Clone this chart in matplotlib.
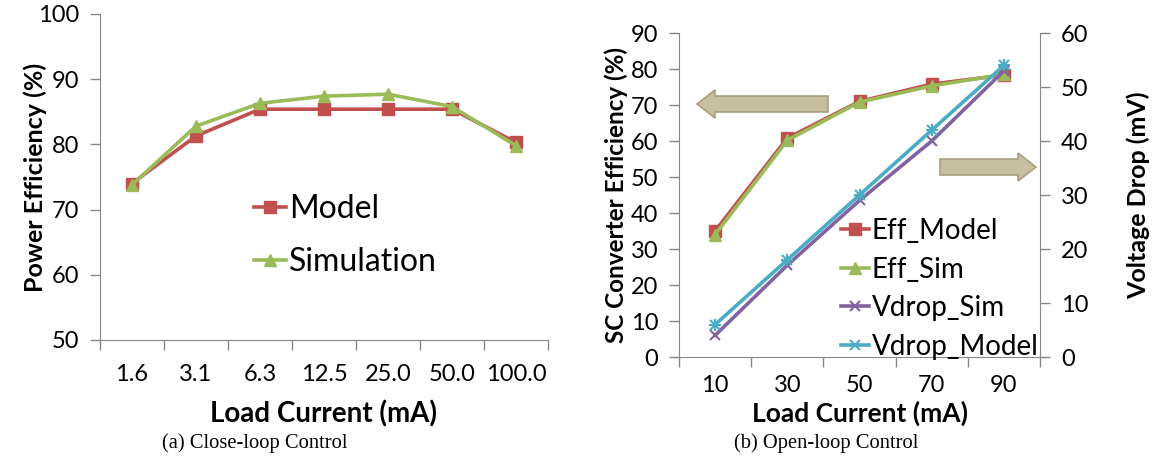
import numpy as np
import matplotlib.pyplot as plt
from matplotlib.patches import FancyArrow

plt.rcParams["font.family"] = ["Lato", "DejaVu Sans"]

# (a) closed-loop efficiency vs load current
load_a = ["1.6", "3.1", "6.3", "12.5", "25.0", "50.0", "100.0"]
eff_model_a = [74.0, 81.3, 85.4, 85.4, 85.4, 85.4, 80.3]
eff_sim_a = [73.8, 82.8, 86.3, 87.4, 87.7, 85.8, 79.8]

# (b) open-loop efficiency and voltage drop
load_b = ["10", "30", "50", "70", "90"]
eff_model_b = [35.0, 60.8, 71.0, 75.8, 78.3]
eff_sim_b = [34.0, 60.2, 70.8, 75.3, 78.5]
vdrop_sim = [4.0, 17.0, 29.0, 40.0, 53.0]
vdrop_model = [6.0, 18.0, 30.0, 42.0, 54.0]

RED = "#c0504d"
GREEN = "#9bbb59"
PURPLE = "#8064a2"
CYAN = "#4bacc6"
AXC = "#888888"

W, H = 1158, 466
fig = plt.figure(figsize=(W / 100, H / 100), dpi=100)


def box(x0, y0, x1, y1):
    return [x0 / W, 1 - y1 / H, (x1 - x0) / W, (y1 - y0) / H]


def style_cat_axis(ax, labels, pad):
    n = len(labels)
    ax.set_xlim(-0.5, n - 0.5)
    ax.set_xticks(np.arange(n))
    ax.set_xticklabels(labels)
    ax.set_xticks(np.arange(n + 1) - 0.5, minor=True)
    ax.tick_params(axis="x", which="major", length=0, pad=pad, labelsize=17)
    ax.tick_params(axis="x", which="minor", length=7, color=AXC, width=1)
    ax.tick_params(axis="y", length=7, color=AXC, width=1, labelsize=17, pad=8)
    for s in ["top", "right"]:
        ax.spines[s].set_visible(False)
    for s in ["left", "bottom"]:
        ax.spines[s].set_color(AXC)


# ---- (a) ----
ax1 = fig.add_axes(box(100, 14, 548, 340))
xa = np.arange(len(load_a))
ax1.plot(xa, eff_model_a, color=RED, lw=2.6, marker="s", ms=8, label="Model")
ax1.plot(xa, eff_sim_a, color=GREEN, lw=2.6, marker="^", ms=8, label="Simulation")
ax1.set_ylim(50, 100)
ax1.set_yticks(range(50, 101, 10))
style_cat_axis(ax1, load_a, pad=17)
ax1.set_xlabel("Load Current (mA)", fontsize=20, fontweight="bold")
ax1.xaxis.set_label_coords(0.5, -0.184)
ax1.set_ylabel("Power Efficiency (%)", fontsize=18, fontweight="bold")
ax1.yaxis.set_label_coords(-0.118, 0.5)
ax1.legend(loc="center left", bbox_to_anchor=(0.28, 0.32), frameon=False,
           fontsize=23, handlelength=1.0, handletextpad=0.1, labelspacing=0.72)
fig.text(255 / W, 1 - 443 / H, "(a) Close-loop Control", ha="center", va="center",
         family="Liberation Serif", fontsize=14.8)

# ---- (b) ----
ax2 = fig.add_axes(box(679, 33, 1040, 357))
xb = np.arange(len(load_b))
l1, = ax2.plot(xb, eff_model_b, color=RED, lw=2.6, marker="s", ms=8, label="Eff_Model")
l2, = ax2.plot(xb, eff_sim_b, color=GREEN, lw=2.6, marker="^", ms=8, label="Eff_Sim")
ax2.set_ylim(0, 90)
ax2.set_yticks(range(0, 91, 10))
style_cat_axis(ax2, load_b, pad=13)
ax2.set_xlabel("Load Current (mA)", fontsize=19, fontweight="bold")
ax2.xaxis.set_label_coords(0.5, -0.135)
ax2.set_ylabel("SC Converter Efficiency (%)", fontsize=17.5, fontweight="bold")
ax2.yaxis.set_label_coords(-0.14, 0.5)

ax3 = ax2.twinx()
l3, = ax3.plot(xb, vdrop_sim, color=PURPLE, lw=2.6, marker="x", ms=7, mew=1.5, label="Vdrop_Sim")
l4, = ax3.plot(xb, vdrop_model, color=CYAN, lw=2.6, marker="x", ms=7, mew=1.5, label="Vdrop_Model")
ax3.plot(xb, vdrop_model, color=CYAN, lw=0, marker="+", ms=8, mew=1.5)
ax3.set_ylim(0, 60)
ax3.set_yticks(range(0, 61, 10))
ax3.tick_params(axis="y", length=7, color=AXC, width=1, labelsize=17, pad=8)
for s in ["top", "left", "bottom"]:
    ax3.spines[s].set_visible(False)
ax3.spines["right"].set_color(AXC)
ax3.set_ylabel("Voltage Drop (mV)", fontsize=18, fontweight="bold")
ax3.yaxis.set_label_coords(1.241, 0.5)

ax2.legend(handles=[l1, l2, l3, l4], loc="lower left", bbox_to_anchor=(0.38, -0.085),
           frameon=False, fontsize=20, handlelength=1.0, handletextpad=0.1,
           labelspacing=0.45)

# direction arrows
arrow_kw = dict(facecolor="#c8bfa0", edgecolor="#a89f80", lw=1.2,
                transform=fig.transFigure, length_includes_head=True)
fig.patches.append(FancyArrow(828 / W, 1 - 104 / H, -(828 - 697) / W, 0,
                              width=16 / H, head_width=28 / H, head_length=18 / W,
                              **arrow_kw))
fig.patches.append(FancyArrow(940 / W, 1 - 167 / H, (1036 - 940) / W, 0,
                              width=16 / H, head_width=28 / H, head_length=18 / W,
                              **arrow_kw))

fig.text(826 / W, 1 - 443 / H, "(b) Open-loop Control", ha="center", va="center",
         family="Liberation Serif", fontsize=14.8)

fig.savefig("out.png", dpi=100)
